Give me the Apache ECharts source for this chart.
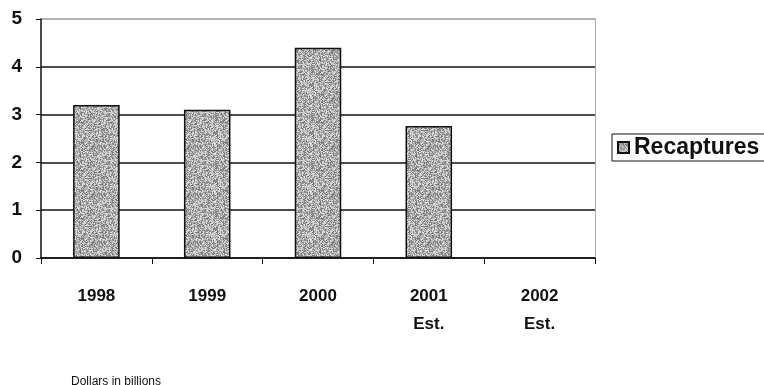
<!DOCTYPE html>
<html>
<head>
<meta charset="utf-8">
<script src="https://cdn.jsdelivr.net/npm/echarts@6/dist/echarts.min.js"></script>
<style>
  html, body { margin: 0; padding: 0; background: #fff; }
  #chart { width: 764px; height: 385px; }
</style>
</head>
<body>
<div id="chart"></div>
<script>
// Recaptures by year, dollars in billions
const years = ['1998', '1999', '2000', '2001\nEst.', '2002\nEst.'];
const recaptures = [3.2, 3.1, 4.4, 2.76, null];
const yTicks = [0, 1, 2, 3, 4, 5];

// Grainy gray fill for the bars, built from a small deterministic dither
function grainPattern(size) {
  const c = document.createElement('canvas');
  c.width = size; c.height = size;
  const ctx = c.getContext('2d');
  const img = ctx.createImageData(size, size);
  let s = 12345;
  for (let i = 0; i < size * size; i++) {
    s = (s * 1103515245 + 12345) & 0x7fffffff;
    const v = 110 + ((s >> 8) % 125);
    img.data[i * 4] = v; img.data[i * 4 + 1] = v; img.data[i * 4 + 2] = v; img.data[i * 4 + 3] = 255;
  }
  ctx.putImageData(img, 0, 0);
  return c;
}
const grain = { image: grainPattern(48), repeat: 'repeat' };

const chart = echarts.init(document.getElementById('chart'), null, { renderer: 'canvas' });
const font = 'Liberation Sans, Arial, sans-serif';

chart.setOption({
  animation: false,
  backgroundColor: '#fff',
  title: {
    text: 'Dollars in billions',
    left: 66, top: 371,
    textStyle: { fontFamily: font, fontSize: 12, fontWeight: 'normal', color: '#111' }
  },
  legend: {
    data: ['Recaptures'],
    orient: 'vertical',
    left: 612, top: 134,
    padding: [2, 8, 2, 5],
    borderColor: '#111', borderWidth: 1,
    itemWidth: 11, itemHeight: 11, itemGap: 4,
    icon: 'rect',
    textStyle: { fontFamily: font, fontSize: 23, fontWeight: 'bold', color: '#111' }
  },
  grid: { left: 41, right: 169, top: 19, bottom: 127 },
  xAxis: {
    type: 'category',
    data: years,
    axisLine: { lineStyle: { color: '#111', width: 1.5 } },
    axisTick: { show: true, length: 6, lineStyle: { color: '#111', width: 1 } },
    axisLabel: {
      fontFamily: font, fontSize: 17, fontWeight: 'bold', color: '#111',
      margin: 24, lineHeight: 28
    }
  },
  yAxis: [{
    type: 'value',
    min: 0, max: 5, interval: 1,
    axisLine: { show: true, lineStyle: { color: '#111', width: 1.5 } },
    axisTick: { show: true, length: 5, lineStyle: { color: '#111' } },
    axisLabel: {
      fontFamily: font, fontSize: 19, fontWeight: 'bold', color: '#111', margin: 19,
      formatter: v => yTicks.includes(v) ? String(v) : ''
    },
    splitLine: {
      show: true,
      lineStyle: { color: ['#111', '#111', '#111', '#111', '#111', '#9a9a9a'], width: 1.5 }
    }
  }, {
    type: 'value',
    position: 'right',
    min: 0, max: 5, interval: 1,
    axisLine: { show: true, lineStyle: { color: '#9a9a9a', width: 1, type: 'dotted' } },
    axisTick: { show: false },
    axisLabel: { show: false },
    splitLine: { show: false }
  }],
  series: [{
    name: 'Recaptures',
    type: 'bar',
    data: recaptures,
    barWidth: '42%',
    itemStyle: { color: grain, borderColor: '#111', borderWidth: 1.5 }
  }]
});
</script>
</body>
</html>
